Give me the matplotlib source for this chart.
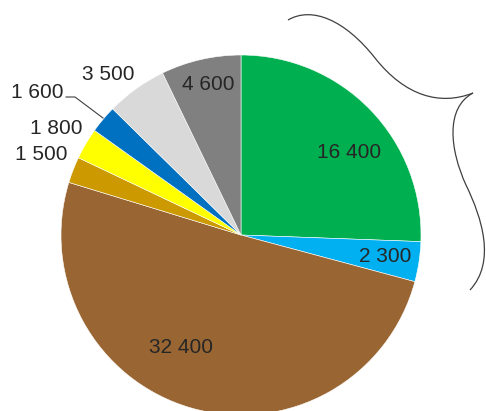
import matplotlib
matplotlib.use("Agg")
import matplotlib.pyplot as plt
from matplotlib.path import Path
from matplotlib.patches import PathPatch

values = [16400, 2300, 32400, 1500, 1800, 1600, 3500, 4600]
labels = ["16 400", "2 300", "32 400", "1 500", "1 800", "1 600", "3 500", "4 600"]
colors = ["#00B050", "#00B0F0", "#996633", "#CC9900", "#FFFF00", "#0070C0", "#D9D9D9", "#808080"]

W, H = 486, 411
# label positions in pixel coords (x, y from top)
label_pos = [(349, 153), (385, 256), (181, 347), (41, 155), (56, 129), (37, 92), (108, 75), (208, 85)]

fig = plt.figure(figsize=(W / 100, H / 100), dpi=100)
ax = fig.add_axes([0, 0, 1, 1])

cx, cy, r = 241, H - 235, 180
ax.pie(values, colors=colors, startangle=90, counterclock=False,
       center=(cx, cy), radius=r, frame=True,
       wedgeprops=dict(edgecolor="white", linewidth=0.4))
ax.set_xlim(0, W)
ax.set_ylim(0, H)
ax.set_aspect("equal")
ax.axis("off")

for lab, (px, py) in zip(labels, label_pos):
    ax.text(px, H - py, lab, ha="center", va="center", fontsize=15,
            family="Liberation Sans", color="#262626")

# leader line for 1 600
ax.plot([66, 75, 103], [H - 97, H - 97, H - 118], color="#404040", lw=0.8)

# decorative curve on the right
def P(x, y):
    return (x, H - y)

verts = [P(288, 20), P(312, 6), P(345, 20), P(375, 58),
         P(405, 96), P(440, 106), P(473, 93)]
codes = [Path.MOVETO, Path.CURVE4, Path.CURVE4, Path.CURVE4,
         Path.CURVE4, Path.CURVE4, Path.CURVE4]
ax.add_patch(PathPatch(Path(verts, codes), fill=False, edgecolor="#404040", lw=0.9))
verts2 = [P(473, 93), P(445, 108), P(450, 150), P(466, 185),
          P(482, 218), P(496, 262), P(470, 290)]
ax.add_patch(PathPatch(Path(verts2, codes), fill=False, edgecolor="#404040", lw=0.9))

fig.savefig("out.png", dpi=100)
